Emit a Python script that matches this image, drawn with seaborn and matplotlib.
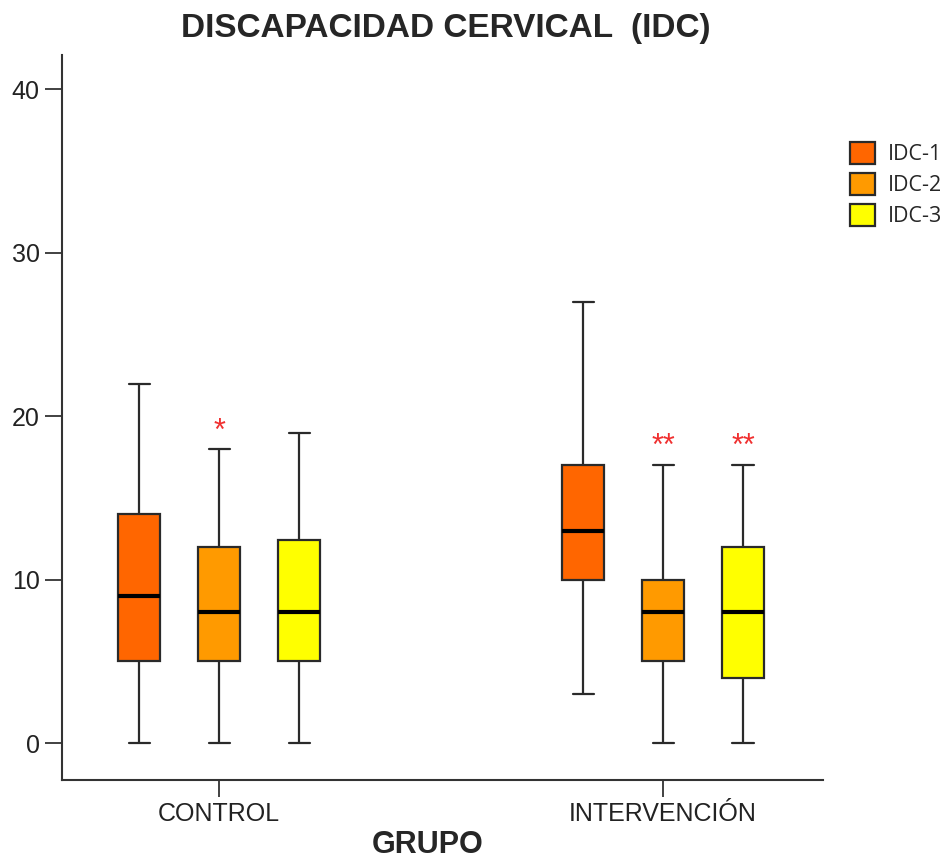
import matplotlib
matplotlib.use("Agg")
import matplotlib.pyplot as plt
import seaborn as sns
import pandas as pd

groups = ["CONTROL", "INTERVENCIÓN"]
series = ["IDC-1", "IDC-2", "IDC-3"]
# five-number summaries: min, q1, median, q3, max
control_stats = {
    "IDC-1": [0, 5, 9, 14, 22],
    "IDC-2": [0, 5, 8, 12, 18],
    "IDC-3": [0, 5, 8, 12.4, 19],
}
interv_stats = {
    "IDC-1": [3, 10, 13, 17, 27],
    "IDC-2": [0, 5, 8, 10, 17],
    "IDC-3": [0, 4, 8, 12, 17],
}
colors = ["#FF6600", "#FF9A00", "#FFFF00"]
yticks = [0, 10, 20, 30, 40]
# significance marks: (group, series, text, y)
marks = [("CONTROL", "IDC-2", "*", 18.1),
         ("INTERVENCIÓN", "IDC-2", "**", 17.2),
         ("INTERVENCIÓN", "IDC-3", "**", 17.2)]

rows = []
for g, stats in zip(groups, [control_stats, interv_stats]):
    for s in series:
        for v in stats[s]:
            rows.append({"GRUPO": g, "serie": s, "valor": v})
df = pd.DataFrame(rows)

sns.set_style("ticks")
plt.rcParams['font.family'] = ['Liberation Sans', 'DejaVu Sans']

fig = plt.figure(figsize=(9.53, 8.59), dpi=100)
ax = fig.add_axes([62/953, 1 - 780/859, (823-62)/953, (780-55)/859])

sns.boxplot(data=df, x="GRUPO", y="valor", hue="serie", order=groups,
            hue_order=series, palette=colors, whis=(0, 100), width=0.54,
            gap=0.47, saturation=1, linecolor="#2a2a2a", linewidth=1.6,
            medianprops=dict(color="black", linewidth=3),
            showfliers=False, ax=ax)

ax.set_ylim(-2.26, 42.1)
ax.set_xlim(-0.354, 1.36)
ax.set_yticks(yticks)
ax.tick_params(axis="both", labelsize=18, length=12, width=1.3, color="#333333",
               labelcolor="#222222", pad=4)
for sp in ["top", "right"]:
    ax.spines[sp].set_visible(False)
for sp in ["left", "bottom"]:
    ax.spines[sp].set_color("#333333")
    ax.spines[sp].set_linewidth(1.5)

ax.set_ylabel("")
ax.set_xlabel("GRUPO", fontsize=22, fontweight="bold")
ax.xaxis.set_label_coords((428 - 62) / (823 - 62), -(845 - 780) / (780 - 55), transform=ax.transAxes)
ax.xaxis.label.set_va("center")
fig.text(446/953, 1 - 29/859, "DISCAPACIDAD CERVICAL  (IDC)", ha="center",
         va="center", fontsize=24, fontweight="bold")

slot = 0.54 / 3
for g, s, t, y in marks:
    x = groups.index(g) + (series.index(s) - 1) * slot
    ax.text(x, y, t, ha="center", va="bottom", color="#F03030", fontsize=22)

handles, labels = ax.get_legend_handles_labels()
leg = ax.legend(handles, labels, loc="upper left", bbox_to_anchor=(831/953, 1 - 123/859),
                bbox_transform=fig.transFigure, frameon=False,
                prop={"family": ["Open Sans", "DejaVu Sans"], "size": 15.5},
                handlelength=1.15, handleheight=1.15, handletextpad=0.6, labelspacing=0.37)

fig.savefig("out.png", dpi=100)
